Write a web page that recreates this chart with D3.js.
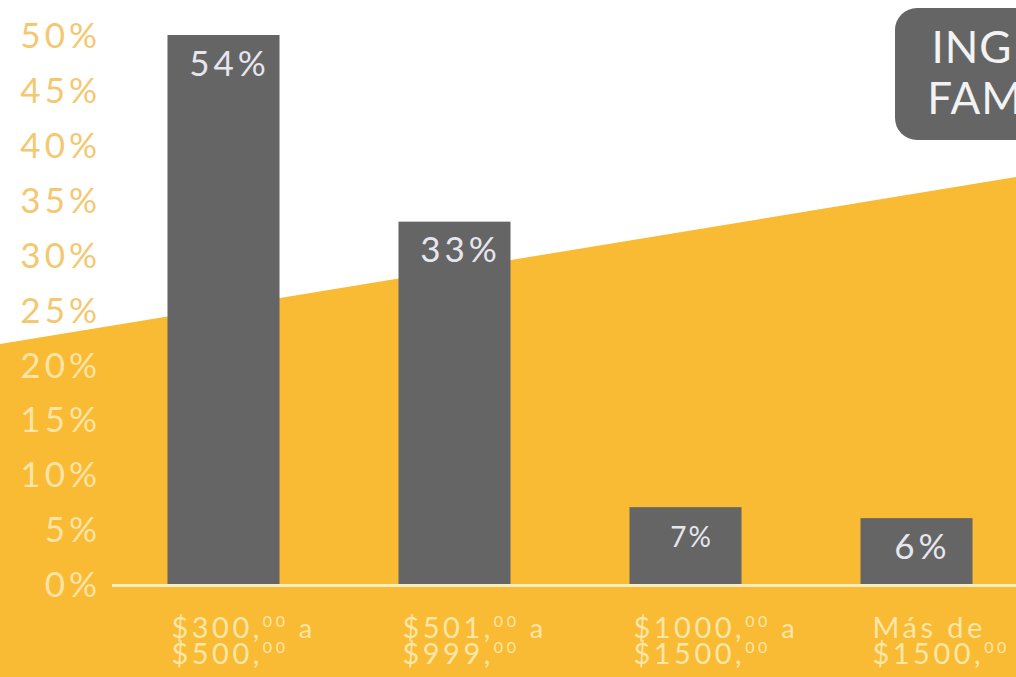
<!DOCTYPE html>
<html>
<head>
<meta charset="utf-8">
<script src="https://cdn.jsdelivr.net/npm/d3@7/dist/d3.min.js"></script>
<style>
  html, body { margin: 0; padding: 0; background: #ffffff; }
  svg { display: block; }
</style>
</head>
<body>
<svg id="chart" width="1016" height="677"></svg>
<script>
// Income brackets (main part, cents part) and share of families in each
const categories = ["300-500", "501-999", "1000-1500", "1500+"];
const labelLine1 = [["$300,", "00", " a"], ["$501,", "00", " a"], ["$1000,", "00", " a"], ["Más de", "", ""]];
const labelLine2 = [["$500,", "00"], ["$999,", "00"], ["$1500,", "00"], ["$1500,", "00"]];
const shares = [54, 33, 7, 6];
const valueLabels = ["54%", "33%", "7%", "6%"];
const yTicks = [0, 5, 10, 15, 20, 25, 30, 35, 40, 45, 50];
const title = ["INGRESO", "FAMILIAR"];

const W = 1016, H = 677;
const svg = d3.select("#chart");
const font = "Lato, 'Open Sans', sans-serif";

const YELLOW = "#f9ba34";
const BAR = "#656565";

// Decorative slanted yellow backdrop
svg.append("rect").attr("width", W).attr("height", H).attr("fill", "#ffffff");
svg.append("path")
  .attr("d", d3.line()([[0, 344], [W, 177], [W, H], [0, H]]) + "Z")
  .attr("fill", YELLOW);

// Scales
const x = d3.scaleBand()
  .domain(categories)
  .range([108, 1032])
  .paddingInner(0.515)
  .paddingOuter(0.2575);

const y = d3.scaleLinear()
  .domain([0, 50])
  .range([584, 35])
  .clamp(true);

// Y axis (tick labels only)
const yAxis = svg.append("g")
  .attr("transform", "translate(101,0)")
  .call(d3.axisLeft(y).tickValues(yTicks).tickSize(0).tickPadding(0).tickFormat(d => d + "%"));
yAxis.select(".domain").remove();
yAxis.selectAll("text")
  .attr("font-family", font)
  .attr("font-size", 35)
  .attr("letter-spacing", 4)
  .attr("dy", "0.36em")
  .attr("fill", d => d >= 25 ? "#f4c870" : "#fde4a6");

// Bars
svg.append("g").selectAll("rect")
  .data(shares)
  .join("rect")
  .attr("x", (d, i) => x(categories[i]))
  .attr("y", d => y(d))
  .attr("width", x.bandwidth())
  .attr("height", d => y(0) - y(d))
  .attr("fill", BAR);

// Baseline
svg.append("line")
  .attr("x1", 112).attr("x2", W)
  .attr("y1", y(0) + 1.5).attr("y2", y(0) + 1.5)
  .attr("stroke", "#fdebc2")
  .attr("stroke-width", 3);

// Value labels inside bars
svg.append("g").selectAll("text")
  .data(shares)
  .join("text")
  .attr("x", (d, i) => x(categories[i]) + x.bandwidth() / 2 + 6)
  .attr("y", (d, i) => y(d) + (i === 2 ? 30 : 28))
  .attr("dy", "0.36em")
  .attr("text-anchor", "middle")
  .attr("font-family", font)
  .attr("font-size", (d, i) => i === 2 ? 28 : 35)
  .attr("letter-spacing", (d, i) => i === 2 ? 2 : 4)
  .attr("fill", "#e6e6ee")
  .text((d, i) => valueLabels[i]);

// Category labels (two lines, cents as superscript)
const catG = svg.append("g").selectAll("g")
  .data(categories)
  .join("g")
  .attr("transform", (d, i) => `translate(${x(d) + (i === 3 ? 12 : 4)},0)`);

function writeLine(sel, parts, yPos) {
  const t = sel.append("text")
    .attr("y", yPos)
    .attr("font-family", font)
    .attr("font-size", 29)
    .attr("letter-spacing", 3.5)
    .attr("fill", "#fde6a8");
  t.append("tspan").text(parts[0]);
  if (parts[1]) {
    t.append("tspan").attr("font-size", 16).attr("dy", -11).text(parts[1]);
  }
  if (parts[2]) {
    t.append("tspan").attr("font-size", 27).attr("dy", 11).text(parts[2]);
  }
}
catG.each(function (d, i) {
  const g = d3.select(this);
  writeLine(g, labelLine1[i], 638);
  writeLine(g, labelLine2[i], 664);
});

// Title badge
const badge = svg.append("g");
badge.append("rect")
  .attr("x", 895).attr("y", 8)
  .attr("width", 260).attr("height", 132)
  .attr("rx", 22)
  .attr("fill", BAR);
badge.selectAll("text")
  .data(title)
  .join("text")
  .attr("x", 1030)
  .attr("y", (d, i) => 63 + i * 51)
  .attr("text-anchor", "middle")
  .attr("font-family", font)
  .attr("font-size", 44)
  .attr("letter-spacing", 1)
  .attr("fill", "#f2f2f2")
  .text(d => d);
</script>
</body>
</html>
